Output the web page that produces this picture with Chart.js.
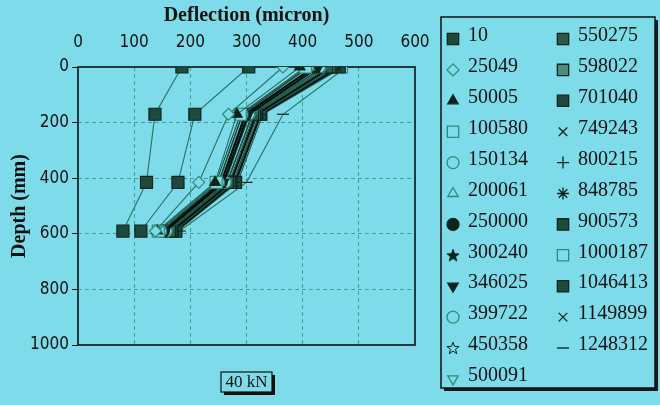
<!DOCTYPE html>
<html lang="en">
<head>
<meta charset="UTF-8">
<title>Deflection vs Depth - 40 kN</title>
<script src="https://cdn.jsdelivr.net/npm/chart.js"></script>
<style>
  body { margin: 0; background: #7ddbea; }
  canvas { display: block; }
</style>
</head>
<body>
<canvas id="deflChart" width="660" height="405"></canvas>
<script>
// gauge depths (mm)
const depths = [0, 170, 415, 590];

// load cycles (legend labels)
const cycles = ['10', '25049', '50005', '100580', '150134', '200061', '250000', '300240',
  '346025', '399722', '450358', '500091', '550275', '598022', '701040', '749243',
  '800215', '848785', '900573', '1000187', '1046413', '1149899', '1248312'];

// deflection (micron) at each depth
const d10      = [185, 137, 122, 80];
const d25049   = [365, 268, 215, 138];
const d50005   = [395, 283, 244, 141];
const d100580  = [405, 289, 246, 143];
const d150134  = [409, 292, 250, 147];
const d200061  = [412, 293, 251, 148];
const d250000  = [420, 298, 255, 152];
const d300240  = [424, 300, 256, 151];
const d346025  = [428, 303, 259, 155];
const d399722  = [430, 304, 262, 157];
const d450358  = [436, 306, 261, 158];
const d500091  = [438, 310, 265, 161];
const d550275  = [443, 311, 266, 163];
const d598022  = [447, 314, 269, 163];
const d701040  = [451, 317, 272, 167];
const d749243  = [452, 318, 272, 168];
const d800215  = [458, 320, 276, 170];
const d848785  = [461, 323, 277, 172];
const d900573  = [465, 325, 280, 174];
const d1000187 = [469, 326, 281, 174];
const d1046413 = [304, 208, 178, 112];
const d1149899 = [472, 329, 284, 177];
const d1248312 = [478, 365, 300, 181];

const deflections = [d10, d25049, d50005, d100580, d150134, d200061, d250000, d300240,
  d346025, d399722, d450358, d500091, d550275, d598022, d701040, d749243,
  d800215, d848785, d900573, d1000187, d1046413, d1149899, d1248312];

const BG = '#7ddbea';
const DARK = '#1d4a3c';
const EDGE = '#0c241c';
const TEAL = '#2f8a78';

// small 5-point star marker
function makeStar(filled) {
    const c = document.createElement('canvas');
    c.width = 14; c.height = 14;
    const g = c.getContext('2d');
    g.beginPath();
    for (let i = 0; i < 10; i++) {
        const r = i % 2 ? 2.6 : 6.4;
        const a = -Math.PI / 2 + i * Math.PI / 5;
        g.lineTo(7 + r * Math.cos(a), 7.5 + r * Math.sin(a));
    }
    g.closePath();
    g.fillStyle = filled ? EDGE : BG;
    g.fill();
    g.strokeStyle = EDGE;
    g.lineWidth = 1;
    g.stroke();
    return c;
}
const starFull = makeStar(true);
const starOpen = makeStar(false);

// marker per cycle: [pointStyle, rotation, fill]
const markers = [
    ['rect', 0, DARK], ['rectRot', 0, BG], ['triangle', 0, EDGE], ['rect', 0, BG],
    ['circle', 0, BG], ['triangle', 0, BG], ['circle', 0, EDGE], [starFull, 0, EDGE],
    ['triangle', 180, EDGE], ['circle', 0, BG], [starOpen, 0, BG], ['triangle', 180, BG],
    ['rect', 0, '#2d5a48'], ['rect', 0, '#4a8c7a'], ['rect', 0, DARK], ['crossRot', 0, EDGE],
    ['cross', 0, EDGE], ['star', 0, EDGE], ['rect', 0, DARK], ['rect', 0, BG],
    ['rect', 0, DARK], ['crossRot', 0, EDGE], ['line', 0, EDGE]
];
const thickLines = ['250000', '346025', '701040', '900573'];

const datasets = cycles.map((c, i) => {
    const m = markers[i];
    const hollow = m[2] === BG;
    const thick = thickLines.includes(c);
    return {
        label: c,
        data: depths.map((d, j) => ({ x: deflections[i][j], y: d })),
        showLine: true,
        borderColor: thick ? '#050f0c' : (i < 3 || i === 20 || i === 22 ? '#2a6e60' : '#1b4e42'),
        borderWidth: thick ? 2.2 : 1.1,
        pointStyle: m[0],
        pointRotation: m[1],
        pointRadius: m[0] === 'rect' ? 8.5 : 6,
        pointBackgroundColor: m[2],
        pointBorderColor: hollow ? TEAL : EDGE,
        pointBorderWidth: 1.2
    };
});

const gridColor = (max) => (ctx) =>
    (ctx.tick && (ctx.tick.value === 0 || ctx.tick.value === max)) ? 'rgba(0,0,0,0)' : '#3f9c96';

// frame around the plot area
const framePlugin = {
    id: 'frame',
    beforeDatasetsDraw(chart) {
        const a = chart.chartArea, ctx = chart.ctx;
        ctx.save();
        ctx.strokeStyle = '#111';
        ctx.lineWidth = 1.6;
        ctx.strokeRect(a.left, a.top, a.right - a.left, a.bottom - a.top);
        ctx.restore();
    }
};

// two-column legend box and the load label
const legendPlugin = {
    id: 'boxLegend',
    afterDraw(chart) {
        const ctx = chart.ctx;
        ctx.save();
        // legend frame with shadow
        ctx.fillStyle = '#1a1a1a';
        ctx.fillRect(444, 20, 214, 371);
        ctx.fillStyle = BG;
        ctx.fillRect(441, 17, 214, 371);
        ctx.strokeStyle = '#111';
        ctx.lineWidth = 1.5;
        ctx.strokeRect(441, 17, 214, 371);

        ctx.font = '20px "Liberation Serif", serif';
        ctx.textBaseline = 'middle';
        chart.data.datasets.forEach((ds, i) => {
            const col = i < 12 ? 0 : 1;
            const row = col ? i - 12 : i;
            const mx = col ? 563 : 453;
            const y = 36 + row * 30.9;
            ctx.fillStyle = ds.pointBackgroundColor;
            ctx.strokeStyle = ds.pointBorderColor;
            ctx.lineWidth = 1.3;
            if (Chart.helpers && Chart.helpers.drawPoint) {
                Chart.helpers.drawPoint(ctx, {
                    pointStyle: ds.pointStyle, rotation: ds.pointRotation,
                    radius: ds.pointStyle === 'rect' ? 8 : 6, borderWidth: 1.3
                }, mx, y + 3);
            }
            ctx.fillStyle = '#111';
            ctx.fillText(ds.label, mx + 15, y);
        });

        // load label
        ctx.fillStyle = '#111';
        ctx.fillRect(224, 375, 51, 20);
        ctx.fillStyle = BG;
        ctx.fillRect(221, 372, 51, 20);
        ctx.strokeStyle = '#111';
        ctx.lineWidth = 1.2;
        ctx.strokeRect(221, 372, 51, 20);
        ctx.fillStyle = '#111';
        ctx.font = '17px "Liberation Serif", serif';
        ctx.textAlign = 'center';
        ctx.fillText('40 kN', 246.5, 383);
        ctx.restore();
    }
};

const tickFont = { family: '"Liberation Sans Narrow", "DejaVu Sans Condensed", sans-serif', size: 17 };
const titleFont = { family: '"Liberation Serif", serif', size: 20, weight: 'bold' };

const deflChart = new Chart(document.getElementById('deflChart').getContext('2d'), {
    type: 'scatter',
    data: { datasets },
    options: {
        responsive: false,
        animation: false,
        layout: { padding: { left: 0, top: 0, right: 245, bottom: 60 } },
        plugins: { legend: { display: false }, tooltip: { enabled: false } },
        scales: {
            x: {
                type: 'linear',
                position: 'top',
                min: 0,
                max: 600,
                afterFit(scale) { scale.height = 67; },
                ticks: { stepSize: 100, font: tickFont, color: '#111', padding: 14 },
                grid: { color: gridColor(600), lineWidth: 1, drawTicks: false },
                border: { display: false, dash: [4, 3] },
                title: { display: true, text: 'Deflection (micron)', font: titleFont, color: '#111', padding: { top: 4, bottom: 0 } }
            },
            y: {
                type: 'linear',
                reverse: true,
                min: 0,
                max: 1000,
                afterFit(scale) { scale.width = 78; },
                ticks: { stepSize: 200, font: tickFont, color: '#111', padding: 3, callback: (v) => String(v) },
                grid: { color: gridColor(1000), lineWidth: 1, drawTicks: true, tickLength: 6, tickColor: '#111', tickBorderDash: [] },
                border: { display: false, dash: [4, 3] },
                title: { display: true, text: 'Depth (mm)', font: titleFont, color: '#111', padding: { top: 8, bottom: 0 } }
            }
        }
    },
    plugins: [framePlugin, legendPlugin]
});
</script>
</body>
</html>
